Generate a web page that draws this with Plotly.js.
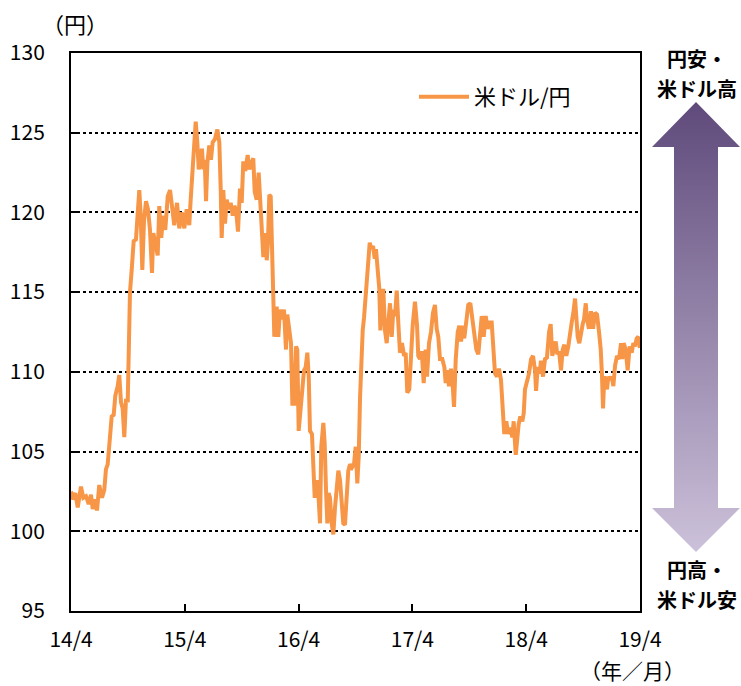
<!DOCTYPE html>
<html>
<head>
<meta charset="utf-8">
<script src="https://cdn.plot.ly/plotly-3.0.1.min.js"></script>
<style>html,body{margin:0;padding:0;background:#fff;}#chart{width:741px;height:686px;}</style>
</head>
<body>
<div id="chart"></div>
<script>
// Months elapsed since April 2014
const months = [
0.0,0.18,0.45,0.71,1.05,1.30,1.58,1.87,2.11,2.29,2.56,2.74,2.98,3.27,3.51,3.69,3.87,4.04,4.29,4.50,4.67,4.92,5.09,5.27,5.45,5.62,5.80,5.98,6.08,6.22,6.40,6.61,6.85,7.03,7.20,7.35,7.52,7.70,7.91,8.12,8.33,8.54,8.68,8.89,9.14,9.31,9.52,9.73,9.94,10.20,10.44,10.65,10.89,11.18,11.42,11.70,11.95,12.20,12.47,
12.62,12.83,12.97,13.15,13.32,13.47,13.68,13.81,13.95,14.10,14.24,14.38,14.58,14.76,14.94,15.18,15.43,15.64,15.79,15.89,16.06,16.24,16.42,16.63,16.84,17.05,17.22,17.40,17.61,17.82,18.00,18.17,18.38,18.63,18.80,19.01,19.22,19.37,19.58,19.79,19.93,20.14,20.28,20.49,20.64,20.77,20.91,21.06,21.20,21.33,21.44,21.69,21.86,22.04,22.28,22.46,22.67,22.81,23.02,23.20,23.34,23.55,23.73,23.86,24.01,24.22,24.43,
24.57,24.75,24.92,25.07,25.20,25.41,25.55,25.70,25.91,26.08,26.26,26.39,26.61,26.75,26.89,27.03,27.17,27.31,27.49,27.66,27.84,28.02,28.19,28.37,28.55,28.71,28.89,29.07,29.24,29.42,29.63,29.84,30.02,30.19,30.34,30.48,30.61,30.76,30.90,31.03,31.18,31.35,31.50,31.67,31.85,32.03,32.16,32.34,32.51,32.62,32.76,32.93,33.11,33.29,33.46,33.64,33.82,33.99,34.17,34.35,34.51,34.69,34.90,35.12,35.29,35.46,35.67,35.82,36.03,
36.27,36.49,36.62,36.80,36.98,37.19,37.40,37.54,37.75,37.96,38.17,38.38,38.56,38.73,38.91,39.15,39.37,39.51,39.65,39.86,40.07,40.21,40.39,40.57,40.78,40.95,41.13,41.30,41.47,41.68,41.89,42.11,42.32,42.53,42.74,42.95,43.16,43.31,43.52,43.73,43.94,44.15,44.36,44.50,44.71,44.92,45.13,45.34,45.55,45.69,45.90,46.11,46.32,46.54,46.68,46.90,47.20,
47.38,47.59,47.74,47.87,48.09,48.30,48.51,48.72,48.93,49.04,49.21,49.42,49.56,49.77,49.98,50.19,50.41,50.58,50.75,50.93,51.11,51.28,51.46,51.67,51.85,52.02,52.23,52.44,52.62,52.80,52.97,53.15,53.28,53.43,53.60,53.78,53.96,54.10,54.28,54.41,54.62,54.83,55.05,55.26,55.47,55.68,55.86,55.99,56.10,56.24,56.38,56.52,56.66,56.84,57.02,57.19,57.37,57.58,57.79,58.00,58.13,58.28,58.49,58.70,58.91,59.13,59.30,59.47,59.65,59.82,59.97
];
// USD/JPY rate (yen per dollar)
const usdjpy = [
102.5,102.0,102.4,101.5,102.8,102.1,102.2,101.7,102.3,101.4,102.0,101.3,102.9,102.1,102.6,103.9,104.2,105.3,107.2,107.3,108.5,109.1,109.8,108.1,107.7,105.9,108.3,108.1,112.7,115.0,116.4,118.2,118.3,120.0,121.4,119.8,116.4,119.5,120.7,120.2,118.9,116.2,118.7,118.1,117.3,120.4,118.4,119.8,118.9,121.0,121.4,120.4,119.2,120.6,119.0,120.0,119.0,120.2,119.2,
120.8,122.7,124.8,125.7,124.4,122.7,123.3,124.0,122.7,123.3,120.7,123.1,124.2,123.3,124.4,124.6,125.2,124.4,121.4,118.4,121.4,119.3,120.8,120.2,120.6,119.8,120.4,120.2,118.8,121.5,120.6,123.2,122.6,123.6,122.7,123.1,123.4,121.3,120.8,122.5,120.6,118.9,117.2,118.7,117.0,118.1,121.1,121.0,116.6,114.7,112.2,114.1,112.2,113.9,113.3,113.9,111.4,113.6,112.8,111.8,108.0,108.0,111.6,111.4,106.3,107.6,109.1,
110.1,110.3,111.2,109.7,106.3,106.1,104.2,102.1,103.2,102.4,100.5,105.3,106.8,105.5,102.6,100.5,102.4,102.1,100.5,99.8,101.5,102.6,103.8,103.2,101.7,100.5,100.4,101.9,103.8,104.2,104.0,104.2,105.3,103.0,104.7,108.4,110.9,112.6,113.4,114.5,115.2,116.4,118.1,117.7,117.9,117.1,117.7,116.4,115.2,112.6,113.5,115.2,112.6,111.8,113.1,114.3,112.2,113.9,113.5,115.1,113.1,111.2,111.8,111.0,111.2,108.7,108.9,111.2,112.9,
114.4,112.9,111.0,110.8,111.3,109.3,111.4,109.7,111.8,112.5,113.7,114.2,112.7,112.2,110.8,110.8,110.3,109.3,110.1,109.1,110.2,109.5,107.8,110.8,112.5,112.9,111.9,112.9,112.1,113.5,114.2,114.3,113.3,112.5,111.4,111.1,112.5,113.5,112.2,113.5,112.7,113.1,113.1,111.4,109.9,109.7,110.2,109.5,107.8,106.1,106.9,106.1,106.5,105.9,106.9,104.8,106.7,
107.2,106.9,107.4,108.9,109.5,109.9,110.8,111.0,110.1,108.8,110.3,109.9,110.7,109.7,110.8,110.9,112.5,113.0,111.0,111.6,111.9,111.1,111.3,110.1,111.4,111.7,111.0,111.6,112.5,113.1,113.7,114.6,113.5,112.2,111.8,112.5,113.0,113.3,114.3,113.3,112.7,113.8,112.7,113.7,113.6,112.5,111.4,109.8,107.7,109.7,109.5,108.9,109.7,109.5,109.7,109.1,110.4,111.0,110.8,111.8,110.8,111.8,111.4,110.1,111.6,111.2,111.8,111.6,112.1,112.2,111.5
];
const tickMonths = [0, 12, 24, 36, 48, 60];
const tickLabels = ['14/4', '15/4', '16/4', '17/4', '18/4', '19/4'];
const seriesName = '米ドル/円';

// decorative double arrow (local units of the right-hand panel)
const arrowX = [56, 100, 78, 78, 100, 56, 12, 34, 34, 12, 56];
const arrowY = [509, 464, 464, 103, 103, 59, 103, 103, 464, 464, 509];

const FONT = '"Noto Sans CJK JP", "Noto Sans", sans-serif';
const mainRight = 569 / 670;
const px = v => (v - 71) / 670;          // horizontal page position helper for annotations
const py = v => 1 - (v - 53) / 558;      // vertical page position helper for annotations

const traces = [
  {
    x: months, y: usdjpy, type: 'scatter', mode: 'lines', name: seriesName,
    line: {color: '#F79646', width: 4}, xaxis: 'x', yaxis: 'y', hoverinfo: 'skip'
  },
  {
    x: arrowX, y: arrowY, type: 'scatter', mode: 'none', fill: 'toself',
    fillgradient: {type: 'vertical', colorscale: [[0, '#CCC1DA'], [1, '#5F4A7B']]},
    xaxis: 'x2', yaxis: 'y2', showlegend: false, hoverinfo: 'skip'
  }
];

function note(text, x, y, bold, size) {
  return {text: bold ? '<b>' + text + '</b>' : text, xref: 'paper', yref: 'paper',
          x: px(x), y: py(y), xanchor: 'center', yanchor: 'middle', showarrow: false,
          font: {family: FONT, size: size || 20, color: '#000'}};
}

const layout = {
  width: 741, height: 686,
  margin: {l: 71, r: 0, t: 53, b: 75, pad: 0},
  paper_bgcolor: '#ffffff', plot_bgcolor: 'rgba(0,0,0,0)',
  font: {family: FONT, size: 19, color: '#000'},
  showlegend: true,
  legend: {x: px(414), y: py(97), xanchor: 'left', yanchor: 'middle', itemwidth: 50,
           bgcolor: 'rgba(0,0,0,0)', borderwidth: 0, font: {family: FONT, size: 22, color: '#000'}},
  xaxis: {
    domain: [0, mainRight], range: [0, 60], tickvals: tickMonths, ticktext: tickLabels,
    ticks: 'inside', ticklen: 7, tickwidth: 2, tickcolor: '#000',
    showline: true, linecolor: '#000', linewidth: 2, mirror: true,
    showgrid: false, zeroline: false, ticklabelstandoff: 9,
    tickfont: {family: FONT, size: 21, color: '#000'}
  },
  yaxis: {
    range: [95, 130], dtick: 5, tick0: 95,
    ticks: 'inside', ticklen: 7, tickwidth: 2, tickcolor: '#000',
    showline: true, linecolor: '#000', linewidth: 2, mirror: true,
    showgrid: true, gridcolor: '#000', gridwidth: 2, griddash: 'dot',
    zeroline: false, ticklabelstandoff: 20,
    tickfont: {family: FONT, size: 21, color: '#000'}
  },
  xaxis2: {domain: [mainRight, 1], range: [0, 101], visible: false, fixedrange: true},
  yaxis2: {domain: [0, 1], range: [0, 558], visible: false, anchor: 'x2', fixedrange: true},
  annotations: [
    note('（円）', 75, 23, false, 22),
    note('（年／月）', 632, 670, false, 21),
    note('円安・', 697, 58, true),
    note('米ドル高', 697, 88, true),
    note('円高・', 697, 569, true),
    note('米ドル安', 697, 599, true)
  ]
};

Plotly.newPlot('chart', traces, layout, {staticPlot: true, displayModeBar: false});
</script>
</body>
</html>
